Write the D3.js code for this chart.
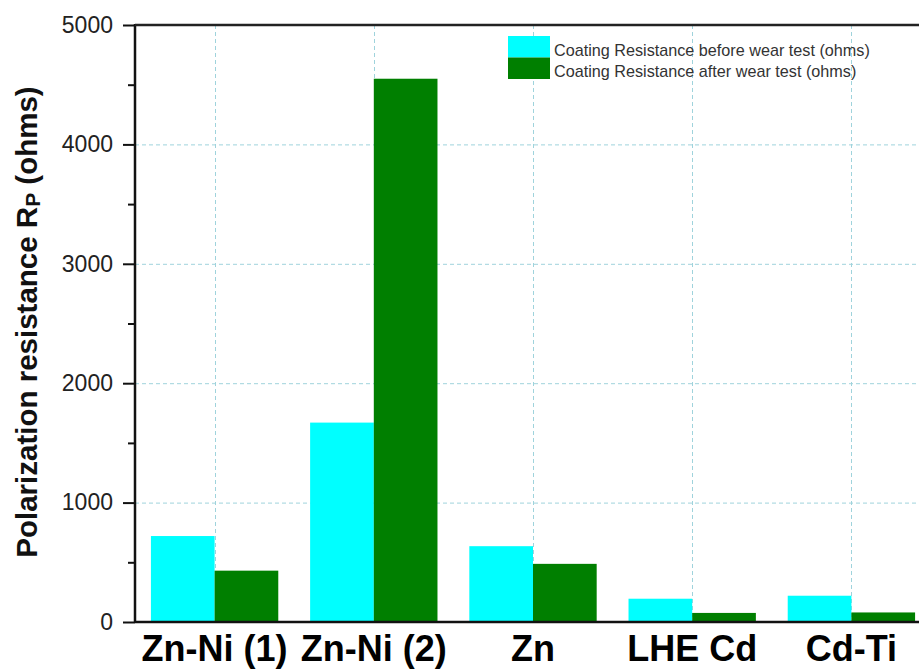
<!DOCTYPE html>
<html><head><meta charset="utf-8">
<script src="https://cdn.jsdelivr.net/npm/d3@7"></script>
<style>body{margin:0;background:#fff}svg{display:block}</style>
</head><body>
<script>
const categories = ["Zn-Ni (1)", "Zn-Ni (2)", "Zn", "LHE Cd", "Cd-Ti"];
const seriesNames = ["Coating Resistance before wear test (ohms)", "Coating Resistance after wear test (ohms)"];
const beforeValues = [720, 1670, 635, 195, 220];
const afterValues = [430, 4550, 487, 76, 80];
const yTicks = [0, 1000, 2000, 3000, 4000, 5000];
const yMinorTicks = [500, 1500, 2500, 3500, 4500];
const colors = ["#00FFFF", "#007F00"];

const W = 919, H = 670;
const m = {left: 135, top: 25, right: 931, bottom: 622};
const svg = d3.select("body").append("svg").attr("width", W).attr("height", H);

const x = d3.scaleBand().domain(categories).range([m.left, m.right]).paddingInner(0.2).paddingOuter(0.1);
const xs = d3.scaleBand().domain([0, 1]).range([0, x.bandwidth()]);
const y = d3.scaleLinear().domain([0, 5000]).range([m.bottom, m.top]);

// grid
const grid = svg.append("g").attr("stroke", "#9fd3dc").attr("stroke-width", 1).attr("stroke-dasharray", "4,3");
grid.selectAll("line.h").data(yTicks.filter(d => d > 0 && d < 5000)).join("line")
  .attr("x1", m.left).attr("x2", W).attr("y1", d => y(d) + 0.5).attr("y2", d => y(d) + 0.5);
grid.selectAll("line.v").data(categories).join("line")
  .attr("x1", d => Math.round(x(d) + x.bandwidth() / 2) + 0.5).attr("x2", d => Math.round(x(d) + x.bandwidth() / 2) + 0.5)
  .attr("y1", m.top).attr("y2", m.bottom);

// bars
const series = [beforeValues, afterValues];
series.forEach((vals, si) => {
  svg.append("g").selectAll("rect").data(categories).join("rect")
    .attr("x", (d) => x(d) + xs(si))
    .attr("width", xs.bandwidth())
    .attr("y", (d, i) => y(vals[i]))
    .attr("height", (d, i) => y(0) - y(vals[i]))
    .attr("fill", colors[si]);
});

// y axis
const yAxis = d3.axisLeft(y).tickValues(yTicks).tickSize(12).tickPadding(10).tickFormat(d3.format("d"));
const ya = svg.append("g").attr("transform", `translate(${m.left},0)`).call(yAxis);
ya.select(".domain").remove();
ya.selectAll("line").attr("stroke", "#111").attr("stroke-width", 2);
ya.selectAll("text").attr("font-family", "Liberation Sans, Arial, sans-serif").attr("font-size", 23).attr("fill", "#222");
const yMinor = d3.axisLeft(y).tickValues(yMinorTicks).tickSize(7).tickFormat("");
const ym = svg.append("g").attr("transform", `translate(${m.left},0)`).call(yMinor);
ym.select(".domain").remove();
ym.selectAll("line").attr("stroke", "#111").attr("stroke-width", 2);

// frame
svg.append("line").attr("x1", m.left).attr("x2", m.left).attr("y1", m.top - 1).attr("y2", m.bottom + 1).attr("stroke", "#111").attr("stroke-width", 2.5);
svg.append("line").attr("x1", m.left).attr("x2", W).attr("y1", m.top).attr("y2", m.top).attr("stroke", "#222").attr("stroke-width", 2.5);
svg.append("line").attr("x1", m.left).attr("x2", W).attr("y1", m.bottom).attr("y2", m.bottom).attr("stroke", "#111").attr("stroke-width", 2.5);

// x axis labels
const xAxis = d3.axisBottom(x).tickSize(0).tickPadding(13);
const xa = svg.append("g").attr("transform", `translate(0,${m.bottom})`).call(xAxis);
xa.select(".domain").remove();
xa.selectAll("text").attr("font-family", "Liberation Sans, Arial, sans-serif").attr("font-size", 36)
  .attr("font-weight", "bold").attr("fill", "#000");

// y label
const yl = svg.append("text").attr("transform", "translate(37,322) rotate(-90)")
  .attr("text-anchor", "middle").attr("font-family", "Liberation Sans, Arial, sans-serif")
  .attr("font-size", 29.5).attr("font-weight", "bold").attr("fill", "#111");
yl.append("tspan").text("Polarization resistance R");
yl.append("tspan").attr("font-size", 21).attr("dy", 3).text("P");
yl.append("tspan").attr("dy", -3).text(" (ohms)");

// legend
const lg = svg.append("g").attr("transform", "translate(508,36)");
seriesNames.forEach((n, i) => {
  lg.append("rect").attr("x", 0).attr("y", i * 21.5).attr("width", 42).attr("height", 21.5).attr("fill", colors[i]);
  lg.append("text").attr("x", 46).attr("y", i * 21 + 20).attr("font-family", "Liberation Sans, Arial, sans-serif")
    .attr("font-size", 16.2).attr("fill", "#333").text(n);
});
</script>
</body></html>
